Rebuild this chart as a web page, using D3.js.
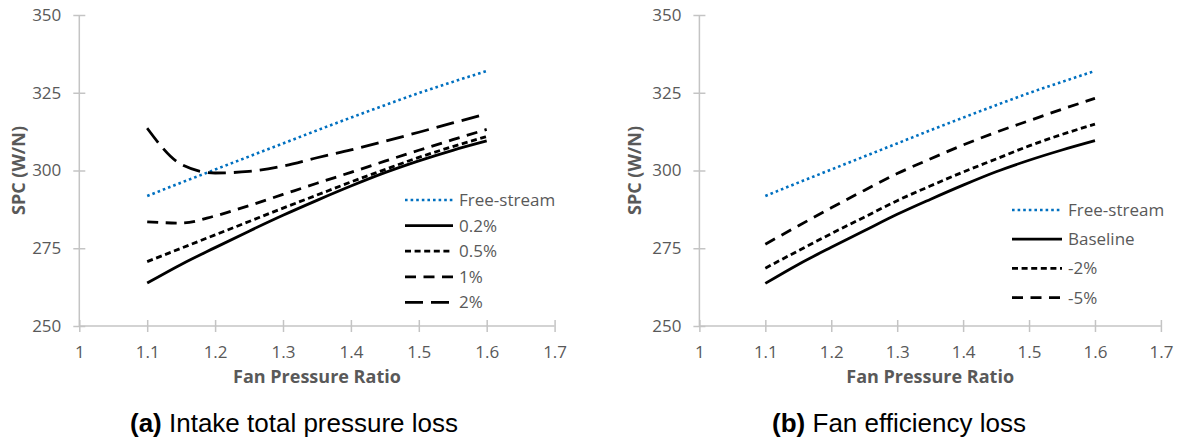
<!DOCTYPE html>
<html>
<head>
<meta charset="utf-8">
<script src="https://cdn.jsdelivr.net/npm/d3@7"></script>
<style>
  html, body { margin: 0; padding: 0; background: #fff; }
  svg { display: block; }
</style>
</head>
<body>
<svg id="chart" width="1178" height="441"></svg>
<script>
// Fan pressure ratio sample points shared by every series
const fpr = [1.1, 1.15, 1.2, 1.25, 1.3, 1.35, 1.4, 1.45, 1.5, 1.55, 1.6];

// Specific power consumption, SPC (W/N)
const freeStream = [291.8, 296.1, 300.3, 304.5, 308.7, 312.9, 317.0, 321.0, 324.9, 328.5, 332.0];
// (a) intake total pressure loss
const loss02 = [263.8, 269.8, 275.2, 280.5, 285.6, 290.4, 295.0, 299.3, 303.1, 306.5, 309.5];
const loss05 = [270.7, 275.0, 279.3, 283.6, 287.9, 292.1, 296.3, 300.3, 304.2, 307.7, 310.9];
const loss1  = [283.5, 283.1, 285.4, 288.7, 292.3, 295.9, 299.4, 303.0, 306.5, 309.9, 313.2];
const loss2  = [313.6, 302.0, 299.2, 299.7, 301.4, 304.1, 306.6, 309.4, 312.3, 315.3, 318.2];
// (b) fan efficiency loss
const baseline = [263.7, 269.8, 275.3, 280.6, 285.9, 290.7, 295.3, 299.6, 303.3, 306.6, 309.6];
const eff2 = [268.6, 274.2, 279.7, 285.0, 290.3, 295.0, 299.5, 303.7, 307.9, 311.6, 314.9];
const eff5 = [276.3, 282.2, 288.0, 293.6, 299.0, 303.7, 308.2, 312.3, 316.0, 319.7, 323.2];

const xTicks = [1, 1.1, 1.2, 1.3, 1.4, 1.5, 1.6, 1.7];
const yTicks = [250, 275, 300, 325, 350];

const intakeLabels = ["Free-stream", "0.2%", "0.5%", "1%", "2%"];
const effLabels = ["Free-stream", "Baseline", "-2%", "-5%"];

const xTitle = "Fan Pressure Ratio";
const yTitle = "SPC (W/N)";
const captions = [["(a)", " Intake total pressure loss"], ["(b)", " Fan efficiency loss"]];

// line styles
const styles = {
  dot:   { color: "#0070c0", dash: "2.6 3",  width: 2.6 },
  solid: { color: "#000",    dash: null,     width: 2.8 },
  short: { color: "#000",    dash: "6 3.6",  width: 2.8 },
  dash:  { color: "#000",    dash: "11 7.5", width: 2.8 },
  long:  { color: "#000",    dash: "18 8",   width: 2.8 }
};

const panels = [
  {
    x0: 79.3, x1: 554.6,
    series: [
      { name: intakeLabels[0], values: freeStream, style: styles.dot },
      { name: intakeLabels[1], values: loss02, style: styles.solid },
      { name: intakeLabels[2], values: loss05, style: styles.short },
      { name: intakeLabels[3], values: loss1, style: styles.dash },
      { name: intakeLabels[4], values: loss2, style: styles.long }
    ],
    legend: { x: 405, len: 48, y0: 200, dy: 25.6 },
    yTitleX: 19, caption: captions[0], captionX: 294
  },
  {
    x0: 699.4, x1: 1160.9,
    series: [
      { name: effLabels[0], values: freeStream, style: styles.dot },
      { name: effLabels[1], values: baseline, style: styles.solid },
      { name: effLabels[2], values: eff2, style: styles.short },
      { name: effLabels[3], values: eff5, style: styles.dash }
    ],
    legend: { x: 1012, len: 50, y0: 210, dy: 29.2 },
    yTitleX: 635, caption: captions[1], captionX: 899
  }
];

const svg = d3.select("#chart");
const font = "'Open Sans', 'Noto Sans', sans-serif";
const grey = "#595959";
const axisGrey = "#c4c4c4";

panels.forEach(p => {
  const x = d3.scaleLinear().domain([1, 1.7]).range([p.x0, p.x1]);
  const y = d3.scaleLinear().domain([250, 350]).range([326, 15]);
  const g = svg.append("g");

  // y axis
  const ya = g.append("g")
    .attr("transform", `translate(${p.x0},0)`)
    .call(d3.axisLeft(y).tickValues(yTicks).tickSize(6).tickPadding(12).tickFormat(d => d));
  // x axis
  const xa = g.append("g")
    .attr("transform", `translate(0,${y(250)})`)
    .call(d3.axisBottom(x).tickValues(xTicks).tickSize(6).tickPadding(14).tickFormat(d => String(d)));

  [ya, xa].forEach(a => {
    a.select(".domain").attr("stroke", axisGrey).attr("stroke-width", 1.5);
    a.selectAll(".tick line").attr("stroke", axisGrey).attr("stroke-width", 1.5);
    a.selectAll(".tick text")
      .attr("fill", grey)
      .style("font-family", font)
      .style("font-size", "17px");
  });
  // ticks cross the axis line
  ya.selectAll(".tick line").attr("x1", -6).attr("x2", 6);
  xa.selectAll(".tick line").attr("y1", -6).attr("y2", 6);
  ya.select(".domain").attr("d", `M0,${y(350)}V${y(250)}`);
  xa.select(".domain").attr("d", `M${x(1)},0H${x(1.7)}`);

  // axis titles
  g.append("text")
    .attr("x", (p.x0 + p.x1) / 2)
    .attr("y", 383)
    .attr("text-anchor", "middle")
    .attr("fill", grey)
    .style("font-family", font)
    .style("font-weight", "bold")
    .style("font-size", "18px")
    .text(xTitle);
  g.append("text")
    .attr("transform", `translate(${p.yTitleX},${(y(250) + y(350)) / 2}) rotate(-90)`)
    .attr("text-anchor", "middle")
    .attr("dy", "0.35em")
    .attr("fill", grey)
    .style("font-family", font)
    .style("font-weight", "bold")
    .style("font-size", "18px")
    .text(yTitle);

  // series lines
  const line = d3.line()
    .x((d, i) => x(fpr[i]))
    .y(d => y(d))
    .curve(d3.curveMonotoneX);

  p.series.forEach(s => {
    g.append("path")
      .datum(s.values)
      .attr("d", line)
      .attr("fill", "none")
      .attr("stroke", s.style.color)
      .attr("stroke-width", s.style.width)
      .attr("stroke-dasharray", s.style.dash);
  });

  // legend
  const lg = g.append("g");
  p.series.forEach((s, i) => {
    const ly = p.legend.y0 + i * p.legend.dy;
    lg.append("line")
      .attr("x1", p.legend.x).attr("x2", p.legend.x + p.legend.len)
      .attr("y1", ly).attr("y2", ly)
      .attr("stroke", s.style.color)
      .attr("stroke-width", s.style.width)
      .attr("stroke-dasharray", s.style.dash);
    lg.append("text")
      .attr("x", p.legend.x + p.legend.len + 6)
      .attr("y", ly)
      .attr("dy", "0.35em")
      .attr("fill", grey)
      .style("font-family", font)
      .style("font-size", "17px")
      .text(s.name);
  });

  // caption under the panel
  const cap = svg.append("text")
    .attr("x", p.captionX)
    .attr("y", 432)
    .attr("text-anchor", "middle")
    .attr("fill", "#000")
    .style("font-family", "'Liberation Sans', Arial, sans-serif")
    .style("font-size", "26px");
  cap.append("tspan").style("font-weight", "bold").text(p.caption[0]);
  cap.append("tspan").text(p.caption[1]);
});
</script>
</body>
</html>
